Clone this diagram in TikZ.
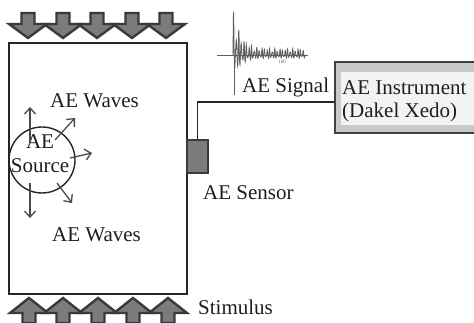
\documentclass[tikz,border=0pt]{standalone}
\usepackage{fontspec}
\setmainfont{Liberation Serif}
\usepackage{xcolor}
\usetikzlibrary{arrows.meta, positioning}
\definecolor{ink}{HTML}{1E1E1E}
\definecolor{arrowFill}{HTML}{7B7B7B}
\definecolor{arrowEdge}{HTML}{3A3A3A}
\definecolor{waveGray}{HTML}{4A4A4A}
\definecolor{boxGray}{HTML}{C9C9C9}
\definecolor{paneGray}{HTML}{F3F3F3}
\definecolor{signalGray}{HTML}{5E5E5E}
\tikzset{
  label/.style={font=\fontsize{21}{24}\selectfont, text=ink, inner sep=0pt},
  loadarrow/.style={fill=arrowFill, draw=arrowEdge, line width=2.4pt, line join=miter},
  specimen/.style={draw=black!85, line width=1.6pt, minimum width=178pt, minimum height=251pt, inner sep=0pt},
  source/.style={circle, draw=black!85, line width=1.4pt, minimum size=66pt, inner sep=0pt},
  wavearrow/.style={draw=waveGray, line width=1.3pt, -{Straight Barb[length=6pt, width=11pt, line width=1.3pt]}},
  sensor/.style={fill=arrowFill, draw=arrowEdge, line width=2pt, minimum width=21pt, minimum height=33pt, inner sep=0pt},
  instrument/.style={fill=boxGray, draw=black!75, line width=1.4pt, minimum width=141pt, minimum height=71pt, inner sep=0pt},
  pane/.style={fill=paneGray, minimum width=134pt, minimum height=53pt, inner sep=0pt},
  cable/.style={draw=black!85, line width=1.5pt}
}

\begin{document}
\begin{tikzpicture}[x=1pt,y=1pt]
\useasboundingbox (0,0) rectangle (474,323);

% specimen with load arrows
\node[specimen] (spec) at (98,154.5) {};
\foreach \cx in {28,63,97,132,166}
  \filldraw[loadarrow] (\cx-6.5,310) -- (\cx+6.5,310) -- (\cx+6.5,299) -- (\cx+19,299)
    -- (\cx,285) -- (\cx-19,299) -- (\cx-6.5,299) -- cycle;
\foreach \cx in {29,63,98,133,168}
  \filldraw[loadarrow] (\cx-6.5,0) -- (\cx+6.5,0) -- (\cx+6.5,10) -- (\cx+19,10)
    -- (\cx,25) -- (\cx-19,10) -- (\cx-6.5,10) -- cycle;

% source and waves
\node[source] (src) at (42,163) {};
\node[label, align=center] (srctext) at (40,169) {AE\\Source};
\draw[wavearrow] (30,180) -- (30,216);
\draw[wavearrow] (55,183) -- (75,205);
\draw[wavearrow] (70,165) -- (92,170);
\draw[wavearrow] (57,140) -- (72,120);
\draw[wavearrow] (30,140) -- (30,105);
\node[label, anchor=base west] (waves1) at (50,215) {AE Waves};
\node[label, anchor=base west] (waves2) at (52,81) {AE Waves};

% sensor and instrument
\node[sensor] (sensor) at (197.5,166.5) {};
\node[label, anchor=base west] (sensorlbl) at (203,123) {AE Sensor};
\node[instrument] (instr) at (405.5,225.5) {};
\node[pane] (pane) at (408,224.5) {};
\node[label, anchor=base west] (instrlbl) at (342,228) {AE Instrument};
\node[label, anchor=base west] (instrlbl2) at (342,205) {(Dakel Xedo)};
\draw[cable] (sensor.north) |- ([yshift=-4.5pt]instr.west);

% signal trace
\draw[signalGray, line width=0.7pt] (217,268) -- (308,268);
\draw[signalGray, line width=0.7pt] (234,268) -- (234,228);
\draw[signalGray, line width=0.8pt] plot[domain=0:72, samples=320]
  ({233+\x}, {268 + (40*exp(-\x/7)+6)*(max(sin(140*\x)+0.4*sin(200*\x),0)
     + 0.5*min(sin(140*\x)+0.4*sin(200*\x),0))/1.3});
\node[font=\fontsize{5}{5}\selectfont, text=signalGray, inner sep=0pt] (tick) at (282,261) {100};
\node[label, anchor=base west] (signallbl) at (242,230) {AE Signal};

\node[label, anchor=base west] (stim) at (198,8) {Stimulus};

\end{tikzpicture}
\end{document}
